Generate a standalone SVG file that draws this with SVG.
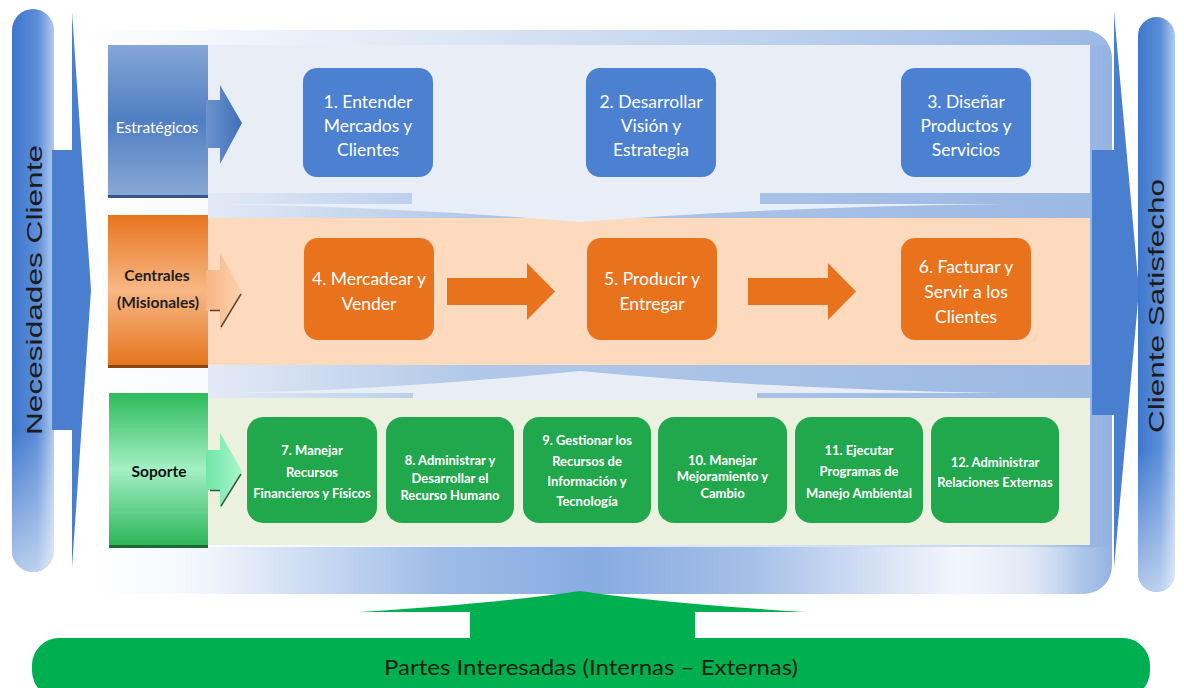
<svg xmlns="http://www.w3.org/2000/svg" width="1184" height="688" viewBox="0 0 1184 688">
<style>
.t{font-family:Lato,'Open Sans','Liberation Sans',sans-serif;text-anchor:middle}
.nw{fill:#ffffff;font-size:17.5px}
.ng{fill:#ffffff;font-size:13px;font-weight:bold}
.lab{font-size:15.5px}
.side{font-family:'Liberation Sans',Arial,sans-serif;font-size:22px;fill:#1c1c1c;text-anchor:middle}
.bn{fill:#4c80d0}
.on{fill:#e9721d}
.gn{fill:#22a84c}
</style>
<defs>
<clipPath id="cf"><rect x="78" y="30" width="1034" height="564" rx="28"/></clipPath>
<linearGradient id="gFrame" x1="0" y1="0" x2="1" y2="0">
<stop offset="0" stop-color="#ffffff"/><stop offset="0.5" stop-color="#e6edf8"/><stop offset="0.92" stop-color="#c3d4ee"/><stop offset="0.97" stop-color="#9ab8e4"/><stop offset="1" stop-color="#94b3e2"/>
</linearGradient>
<linearGradient id="gTop" x1="0" y1="0" x2="1" y2="0">
<stop offset="0" stop-color="#ffffff"/><stop offset="0.4" stop-color="#d9e4f4"/><stop offset="1" stop-color="#9ab8e4"/>
</linearGradient>
<linearGradient id="gBot" x1="0" y1="0" x2="1" y2="0">
<stop offset="0" stop-color="#ffffff" stop-opacity="0"/><stop offset="0.12" stop-color="#f2f6fc"/><stop offset="0.35" stop-color="#9ebce7"/><stop offset="0.5" stop-color="#88abe1"/><stop offset="0.65" stop-color="#a5c0e8"/><stop offset="0.85" stop-color="#f3f6fc"/><stop offset="1" stop-color="#ffffff" stop-opacity="0"/>
</linearGradient>
<linearGradient id="gGap" x1="0" y1="0" x2="1" y2="0">
<stop offset="0" stop-color="#e3eaf6"/><stop offset="0.3" stop-color="#b1c8e8"/><stop offset="1" stop-color="#9cb9e4"/>
</linearGradient>
<linearGradient id="gPill" x1="0" y1="0" x2="1" y2="0">
<stop offset="0" stop-color="#3f77cd"/><stop offset="0.6" stop-color="#5b8dd8"/><stop offset="1" stop-color="#b2caee"/>
</linearGradient>
<linearGradient id="gPillV" x1="0" y1="0" x2="0" y2="1">
<stop offset="0.75" stop-color="#ffffff" stop-opacity="0"/><stop offset="1" stop-color="#ffffff" stop-opacity="0.6"/>
</linearGradient>
<linearGradient id="gLabB" x1="0" y1="0" x2="0" y2="1">
<stop offset="0" stop-color="#86a6d6"/><stop offset="0.5" stop-color="#4f7ec2"/><stop offset="1" stop-color="#8aa8d6"/>
</linearGradient>
<linearGradient id="gLabO" x1="0" y1="0" x2="0" y2="1">
<stop offset="0" stop-color="#e8741e"/><stop offset="0.5" stop-color="#f7b785"/><stop offset="1" stop-color="#e6761f"/>
</linearGradient>
<linearGradient id="gLabG" x1="0" y1="0" x2="0" y2="1">
<stop offset="0" stop-color="#2dbb5b"/><stop offset="0.5" stop-color="#a4f0c3"/><stop offset="1" stop-color="#2cb559"/>
</linearGradient>
<linearGradient id="gArB" x1="0" y1="0" x2="1" y2="0">
<stop offset="0" stop-color="#6d94cf"/><stop offset="1" stop-color="#3f6eb8"/>
</linearGradient>
<linearGradient id="gArO" x1="0" y1="0" x2="1" y2="0">
<stop offset="0" stop-color="#f7b585"/><stop offset="1" stop-color="#fcd2ae"/>
</linearGradient>
<linearGradient id="gArG" x1="0" y1="0" x2="1" y2="0">
<stop offset="0" stop-color="#6fe6a6"/><stop offset="1" stop-color="#a9f6cd"/>
</linearGradient>
</defs>

<g id="frame">
<rect x="78" y="30" width="1034" height="564" rx="28" fill="url(#gFrame)"/>
<g clip-path="url(#cf)">
<rect x="78" y="30" width="1034" height="15" fill="url(#gTop)"/>
<rect x="78" y="547" width="1034" height="47" fill="url(#gBot)"/>
<rect x="208" y="193" width="882" height="25" fill="url(#gGap)"/>
<rect x="208" y="365" width="882" height="33" fill="url(#gGap)"/>
</g>
</g>

<g id="necesidades-cliente">
<rect x="12" y="9" width="42" height="563" rx="21" fill="url(#gPill)"/>
<rect x="12" y="9" width="42" height="563" rx="21" fill="url(#gPillV)"/>
<path d="M52,150 H72 V12 L91,290 L72,568 V430 H52 Z" fill="#4a7fd0"/>
<text class="side" transform="translate(42,290) rotate(-90)" textLength="290" lengthAdjust="spacingAndGlyphs">Necesidades Cliente</text>
</g>

<g id="cliente-satisfecho">
<path d="M1092,150 H1114 V12 L1139,290 L1114,568 V415 H1092 Z" fill="#4a7fd0"/>
<rect x="1138" y="17" width="37" height="575" rx="18.5" fill="url(#gPill)"/>
<rect x="1138" y="17" width="37" height="575" rx="18.5" fill="url(#gPillV)"/>
<text class="side" transform="translate(1164,306) rotate(-90)" textLength="254" lengthAdjust="spacingAndGlyphs">Cliente Satisfecho</text>
</g>

<g id="band-estrategicos">
<rect x="208" y="45" width="882" height="148" fill="#e9eef6"/>
<rect x="108" y="45" width="100" height="150" fill="url(#gLabB)"/>
<rect x="108" y="195" width="100" height="3" fill="#34568a"/>
<path d="M206,100 H220 V85 L242,123 L220,164 V148 H206 Z" fill="url(#gArB)"/>
<text class="t lab" x="157" y="133" fill="#ffffff">Estratégicos</text>
</g>

<g id="band-centrales">
<rect x="208" y="218" width="882" height="147" fill="#fdd9bd"/>
<rect x="108" y="215" width="100" height="150" fill="url(#gLabO)"/>
<rect x="108" y="365" width="100" height="3" fill="#8a4512"/>
<path d="M206,270 H220 V253 L242,292 L220,331 V311 H206 Z" fill="url(#gArO)"/>
<path d="M210,310.5 H220 M221,327 L241,294" stroke="#5a4a3a" stroke-width="1.5" fill="none"/>
<text class="t lab" x="157" y="281" fill="#1e1e1e" font-weight="bold">Centrales</text>
<text class="t lab" x="158" y="308" fill="#1e1e1e" font-weight="bold">(Misionales)</text>
</g>

<g id="band-soporte">
<rect x="208" y="398" width="882" height="147" fill="#ecf0df"/>
<rect x="109" y="393" width="99" height="152" fill="url(#gLabG)"/>
<rect x="109" y="545" width="99" height="3" fill="#1c6b37"/>
<path d="M206,450 H220 V433 L242,471 L220,509 V490 H206 Z" fill="url(#gArG)"/>
<path d="M210,490.5 H220 M221,506 L241,474" stroke="#3d5a48" stroke-width="1.5" fill="none"/>
<text class="t lab" x="159" y="477" fill="#111111" font-weight="bold">Soporte</text>
</g>

<g id="connectors">
<path d="M412,190 H760 V204 H1002 Q770,207 580,222 Q400,207 212,204 H412 Z" fill="#e8eef7"/>
<path d="M413,400 H757 V393 H1000 Q770,389 580,371 Q400,389 240,393 H413 Z" fill="#e9eef6"/>
<path d="M447,278 H527 V263 L555,291.5 L527,320 V305 H447 Z" class="on"/>
<path d="M748,278 H828 V263 L856,291.5 L828,320 V305 H748 Z" class="on"/>
<path d="M470,640 V612 H358 Q500,603 580,591 Q660,603 805,612 H695 V640 Z" fill="#00b050"/>
</g>

<g id="n1"><rect x="303" y="68" width="130" height="109" rx="14" class="bn"/>
<text class="t nw" x="368" y="108">1. Entender</text><text class="t nw" x="368" y="132">Mercados y</text><text class="t nw" x="368" y="156">Clientes</text></g>
<g id="n2"><rect x="586" y="68" width="130" height="109" rx="14" class="bn"/>
<text class="t nw" x="651" y="108">2. Desarrollar</text><text class="t nw" x="651" y="132">Visión y</text><text class="t nw" x="651" y="156">Estrategia</text></g>
<g id="n3"><rect x="901" y="68" width="130" height="109" rx="14" class="bn"/>
<text class="t nw" x="966" y="108">3. Diseñar</text><text class="t nw" x="966" y="132">Productos y</text><text class="t nw" x="966" y="156">Servicios</text></g>

<g id="n4"><rect x="304" y="238" width="130" height="102" rx="14" class="on"/>
<text class="t nw" x="369" y="285">4. Mercadear y</text><text class="t nw" x="369" y="310">Vender</text></g>
<g id="n5"><rect x="587" y="238" width="130" height="102" rx="14" class="on"/>
<text class="t nw" x="652" y="285">5. Producir y</text><text class="t nw" x="652" y="310">Entregar</text></g>
<g id="n6"><rect x="901" y="238" width="130" height="102" rx="14" class="on"/>
<text class="t nw" x="966" y="273">6. Facturar y</text><text class="t nw" x="966" y="298">Servir a los</text><text class="t nw" x="966" y="323">Clientes</text></g>

<g id="n7"><rect x="247" y="417" width="130" height="106" rx="16" class="gn"/>
<text class="t ng" x="312" y="455">7. Manejar</text><text class="t ng" x="312" y="477">Recursos</text><text class="t ng" x="312" y="498">Financieros y Físicos</text></g>
<g id="n8"><rect x="386" y="417" width="128" height="106" rx="16" class="gn"/>
<text class="t ng" x="450" y="465">8. Administrar y</text><text class="t ng" x="450" y="483">Desarrollar el</text><text class="t ng" x="450" y="500">Recurso Humano</text></g>
<g id="n9"><rect x="523" y="417" width="128" height="106" rx="16" class="gn"/>
<text class="t ng" x="587" y="445">9. Gestionar los</text><text class="t ng" x="587" y="466">Recursos de</text><text class="t ng" x="587" y="486">Información y</text><text class="t ng" x="587" y="506">Tecnología</text></g>
<g id="n10"><rect x="658" y="417" width="129" height="106" rx="16" class="gn"/>
<text class="t ng" x="722.5" y="465">10. Manejar</text><text class="t ng" x="722.5" y="481">Mejoramiento y</text><text class="t ng" x="722.5" y="498">Cambio</text></g>
<g id="n11"><rect x="795" y="417" width="128" height="106" rx="16" class="gn"/>
<text class="t ng" x="859" y="455">11. Ejecutar</text><text class="t ng" x="859" y="476">Programas de</text><text class="t ng" x="859" y="498">Manejo Ambiental</text></g>
<g id="n12"><rect x="931" y="417" width="128" height="106" rx="16" class="gn"/>
<text class="t ng" x="995" y="467">12. Administrar</text><text class="t ng" x="995" y="487">Relaciones Externas</text></g>

<g id="partes-interesadas">
<rect x="32" y="638" width="1118" height="60" rx="27" fill="#00b050"/>
<text class="t" x="591" y="675" font-size="22" fill="#15220f" textLength="414" lengthAdjust="spacingAndGlyphs">Partes Interesadas (Internas – Externas)</text>
</g>
</svg>
